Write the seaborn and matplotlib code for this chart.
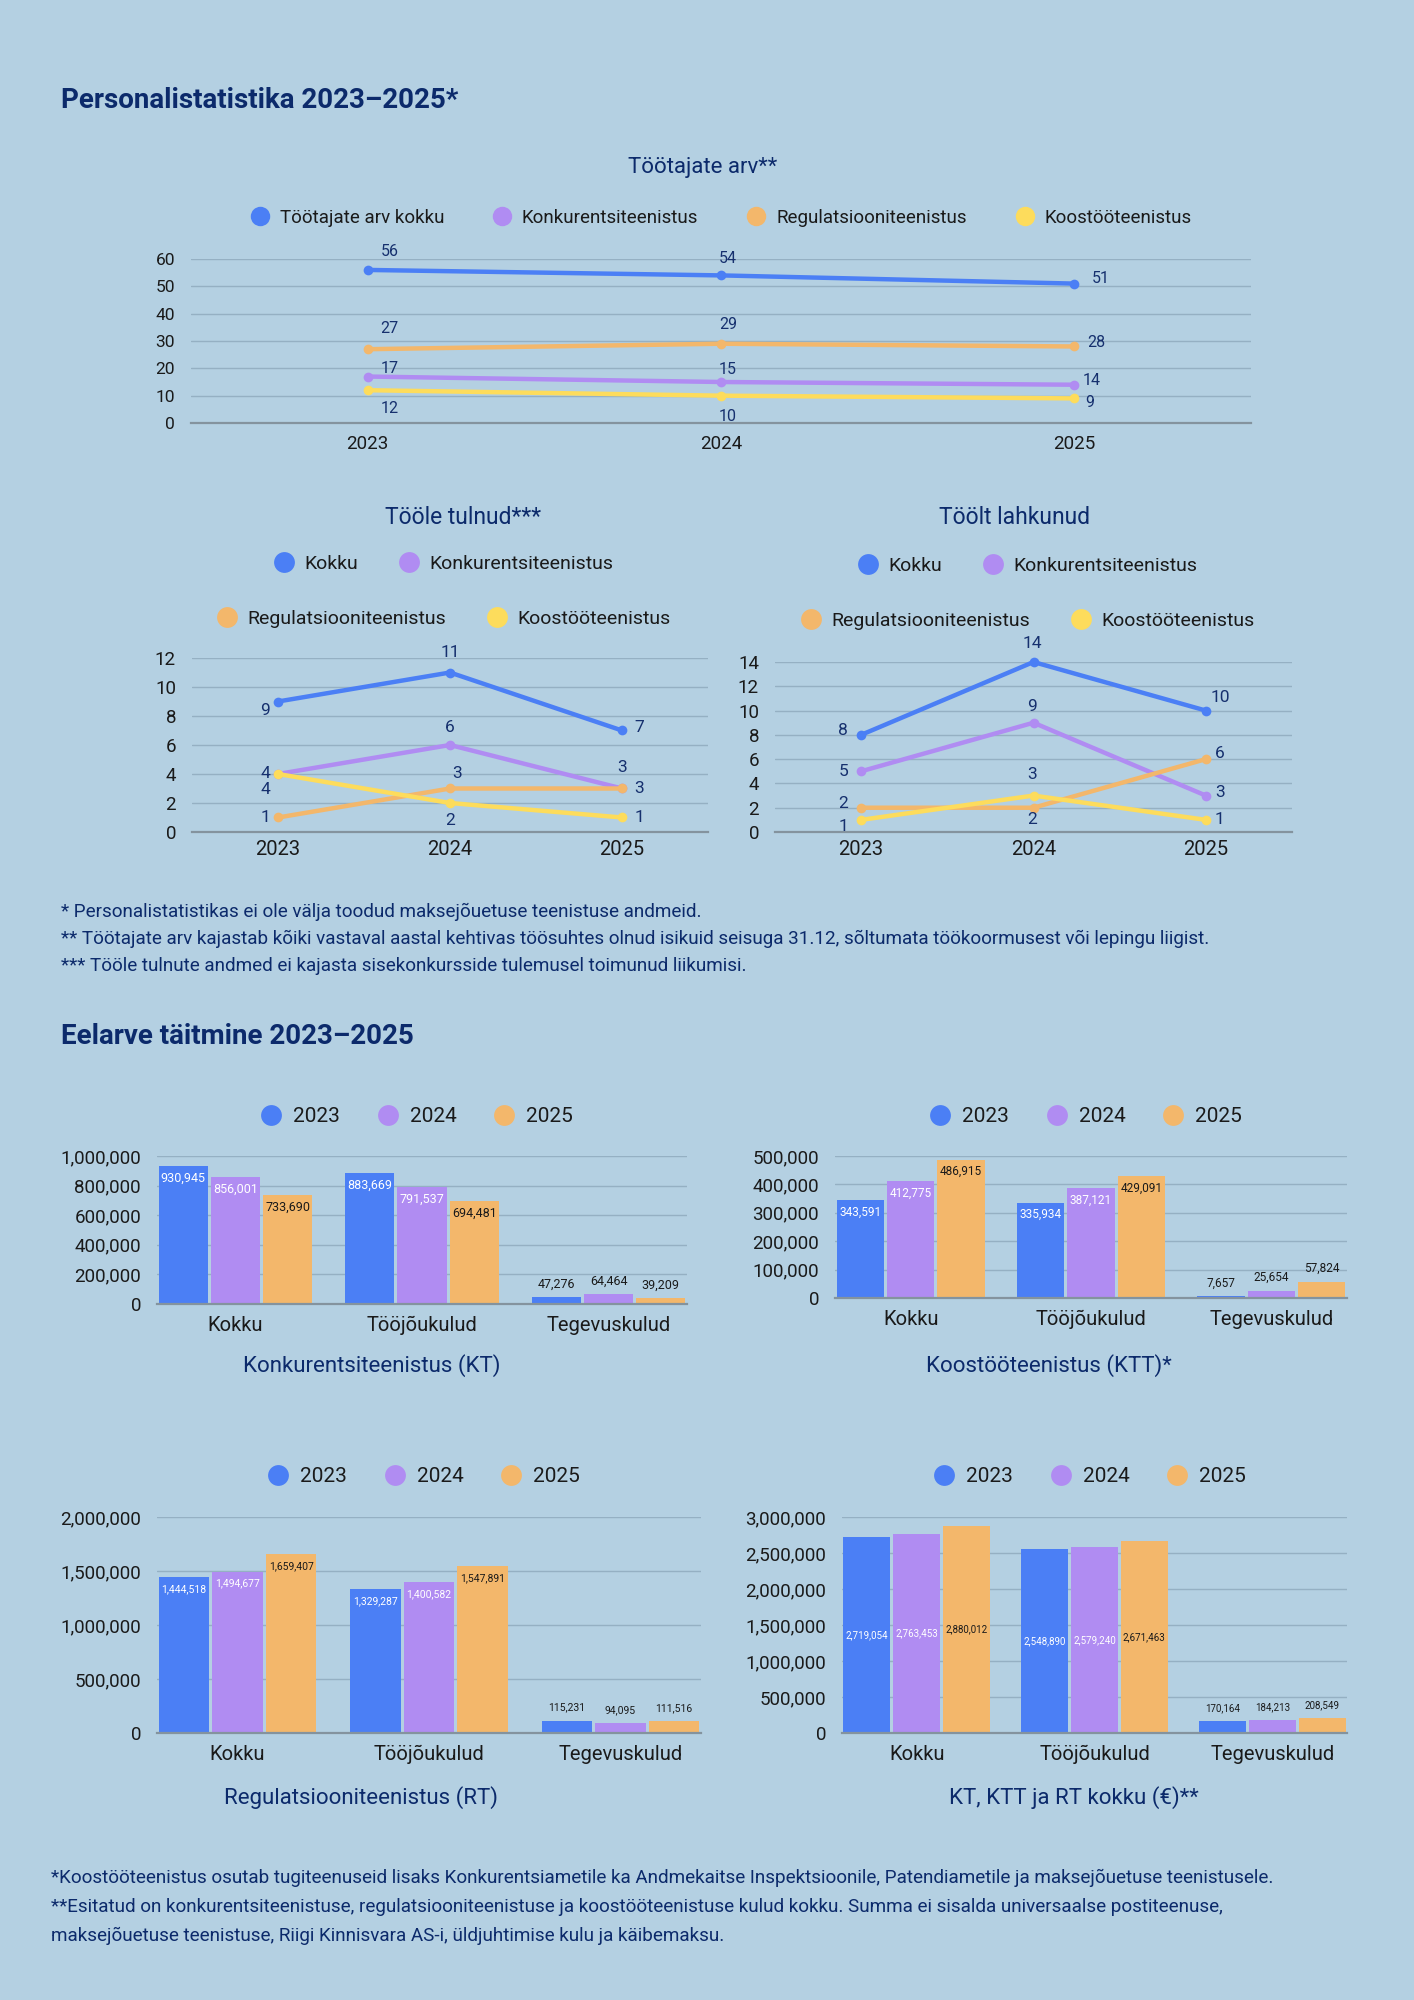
import numpy as np
import pandas as pd
import matplotlib.pyplot as plt
import seaborn as sns
from matplotlib.lines import Line2D
from matplotlib.ticker import FuncFormatter

sns.set_theme(style="white")
plt.rcParams['font.family'] = ['Roboto', 'DejaVu Sans']

BG = '#b4d0e2'
NAVY = '#0c2a6b'
LABEL = '#16306e'
GRID = '#95b0c3'
BASE = '#84939e'
DARK = '#1a1a1a'
BLUE = '#4b7ff5'
PURPLE = '#b08cf2'
ORANGE = '#f3b76b'
YELLOW = '#fddc5c'

W, H = 1414, 2000

# ---------------------------------------------------------------------
# data
# ---------------------------------------------------------------------
years = ['2023', '2024', '2025']

staff_names = ['Töötajate arv kokku', 'Konkurentsiteenistus',
               'Regulatsiooniteenistus', 'Koostööteenistus']
staff_total = [56, 54, 51]
staff_kt = [17, 15, 14]
staff_rt = [27, 29, 28]
staff_ktt = [12, 10, 9]

move_names = ['Kokku', 'Konkurentsiteenistus',
              'Regulatsiooniteenistus', 'Koostööteenistus']
hired_total = [9, 11, 7]
hired_kt = [4, 6, 3]
hired_rt = [1, 3, 3]
hired_ktt = [4, 2, 1]

left_total = [8, 14, 10]
left_kt = [5, 9, 3]
left_rt = [2, 2, 6]
left_ktt = [1, 3, 1]

cost_types = ['Kokku', 'Tööjõukulud', 'Tegevuskulud']
kt_2023 = [930945, 883669, 47276]
kt_2024 = [856001, 791537, 64464]
kt_2025 = [733690, 694481, 39209]
ktt_2023 = [343591, 335934, 7657]
ktt_2024 = [412775, 387121, 25654]
ktt_2025 = [486915, 429091, 57824]
rt_2023 = [1444518, 1329287, 115231]
rt_2024 = [1494677, 1400582, 94095]
rt_2025 = [1659407, 1547891, 111516]
sum_2023 = [2719054, 2548890, 170164]
sum_2024 = [2763453, 2579240, 184213]
sum_2025 = [2880012, 2671463, 208549]

LINE_COLORS = [BLUE, PURPLE, ORANGE, YELLOW]
BAR_COLORS = [BLUE, PURPLE, ORANGE]

fig = plt.figure(figsize=(W / 100, H / 100), dpi=100, facecolor=BG)


def rect(left, top, right, bottom):
    # pixel box -> figure fraction
    return [left / W, 1 - bottom / H, (right - left) / W, (bottom - top) / H]


def ftext(x, y, s, **kw):
    fig.text(x / W, 1 - y / H, s, **kw)


def style_axes(ax, ymax, ystep, tick_size, xpad, ypad=11.5, money=False):
    ax.set_facecolor('none')
    ax.set_axisbelow(True)
    ax.set_ylim(0, ymax)
    ax.set_yticks(np.arange(0, ymax + 1, ystep))
    ax.grid(axis='y', color=GRID, lw=1)
    ax.grid(axis='x', visible=False)
    for s in ['top', 'right', 'left']:
        ax.spines[s].set_visible(False)
    ax.spines['bottom'].set_color(BASE)
    ax.spines['bottom'].set_linewidth(1.6)
    ax.tick_params(axis='y', length=0, labelsize=tick_size, colors=DARK, pad=ypad)
    ax.tick_params(axis='x', length=0, labelsize=tick_size + 1, colors=DARK, pad=xpad)
    if money:
        ax.yaxis.set_major_formatter(FuncFormatter(lambda v, p: f'{int(v):,}'))
    ax.set_xlabel('')
    ax.set_ylabel('')


def add_legend(names, colors, cx, cy, size, msize, colsp):
    handles = [Line2D([], [], ls='none', marker='o', ms=msize, mew=0, color=c)
               for c in colors]
    leg = fig.legend(handles, names, loc='center', ncol=len(names),
                     bbox_to_anchor=(cx / W, 1 - cy / H), bbox_transform=fig.transFigure,
                     frameon=False, fontsize=size, handlelength=1.0,
                     handletextpad=0.55, columnspacing=colsp, borderaxespad=0)
    for t in leg.get_texts():
        t.set_color(DARK)


def line_chart(box, names, series, ymax, ystep, offsets, tick_size, lab_size, xpad):
    ax = fig.add_axes(rect(*box))
    df = pd.DataFrame({
        'Aasta': years * len(series),
        'Arv': sum(series, []),
        'Sari': np.repeat(names, len(years)),
    })
    sns.lineplot(data=df, x='Aasta', y='Arv', hue='Sari', hue_order=names,
                 palette=dict(zip(names, LINE_COLORS)), marker='o', markersize=7,
                 markeredgewidth=0, linewidth=3.2, sort=False, legend=False, ax=ax)
    for line in ax.lines:
        line.set_clip_on(False)
    for i, vals in enumerate(series):
        for j, v in enumerate(vals):
            dx, dy = offsets[i][j]
            ax.annotate(str(v), (j, v), xytext=(dx, -dy), textcoords='offset pixels',
                        ha='center', va='center', color=LABEL, fontsize=lab_size)
    ax.set_xlim(-0.5, 2.5)
    style_axes(ax, ymax, ystep, tick_size, xpad)
    return ax


def bar_chart(box, v23, v24, v25, ymax, ystep, lab_size, mode):
    ax = fig.add_axes(rect(*box))
    df = pd.DataFrame({
        'Kulu': cost_types * 3,
        'Aasta': np.repeat(years, len(cost_types)),
        'Summa': v23 + v24 + v25,
    })
    sns.barplot(data=df, x='Kulu', y='Summa', hue='Aasta', palette=BAR_COLORS,
                width=0.84, gap=0.06, saturation=1, errorbar=None, legend=False,
                edgecolor='none', linewidth=0, ax=ax)
    for k, cont in enumerate(ax.containers):
        for p in cont.patches:
            h = p.get_height()
            x = p.get_x() + p.get_width() / 2
            txt = f'{int(round(h)):,}'
            if h < 0.2 * ymax:
                ax.annotate(txt, (x, h), xytext=(0, 13), textcoords='offset pixels',
                            ha='center', va='center', fontsize=lab_size, color=DARK)
            elif mode == 'top':
                ax.annotate(txt, (x, h), xytext=(0, -12), textcoords='offset pixels',
                            ha='center', va='center', fontsize=lab_size,
                            color='white' if k < 2 else DARK)
            else:
                ax.annotate(txt, (x, h / 2), ha='center', va='center', fontsize=lab_size,
                            color='white' if k < 2 else DARK)
    ax.set_xlim(-0.42, 2.42)
    style_axes(ax, ymax, ystep, 13.5, 8.5, money=True)
    return ax


# ---------------------------------------------------------------------
# Personalistatistika
# ---------------------------------------------------------------------
ftext(61, 100, 'Personalistatistika 2023–2025*', ha='left', va='center',
      fontsize=20, weight='bold', color=NAVY)

ftext(703, 168, 'Töötajate arv**', ha='center', va='center', fontsize=16, color=NAVY)
add_legend(staff_names, LINE_COLORS, 721, 218, 13.5, 14, 2.6)
line_chart((191, 259, 1251, 423), staff_names,
           [staff_total, staff_kt, staff_rt, staff_ktt], 60, 10,
           [[(22, -18), (7, -17), (26, -5)],
            [(22, -8), (7, -12), (17, -4)],
            [(22, -21), (7, -19), (22, -4)],
            [(22, 18), (7, 21), (15, 4)]],
           12.5, 11.5, 8.5)

ftext(463, 517, 'Tööle tulnud***', ha='center', va='center', fontsize=16.5, color=NAVY)
add_legend(move_names[:2], LINE_COLORS[:2], 444, 564, 14, 15, 2.1)
add_legend(move_names[2:], LINE_COLORS[2:], 444, 619, 14, 15, 2.1)
line_chart((192, 658, 708, 832), move_names,
           [hired_total, hired_kt, hired_rt, hired_ktt], 12, 2,
           [[(-13, 9), (0, -20), (17, -3)],
            [(-13, 0), (0, -18), (0, -21)],
            [(-13, 0), (7, -15), (17, 0)],
            [(-13, 16), (0, 18), (17, 0)]],
           13.5, 12.5, 6)

ftext(1015, 517, 'Töölt lahkunud', ha='center', va='center', fontsize=16.5, color=NAVY)
add_legend(move_names[:2], LINE_COLORS[:2], 1028, 566, 14, 15, 2.1)
add_legend(move_names[2:], LINE_COLORS[2:], 1028, 621, 14, 15, 2.1)
line_chart((775, 662, 1292, 832), move_names,
           [left_total, left_kt, left_rt, left_ktt], 14, 2,
           [[(-18, -4), (-1, -19), (14, -13)],
            [(-18, 0), (-1, -16), (14, -3)],
            [(-18, -4), (-1, 12), (14, -6)],
            [(-18, 7), (-1, -21), (14, 0)]],
           13.5, 12.5, 6)

notes_top = [
    '* Personalistatistikas ei ole välja toodud maksejõuetuse teenistuse andmeid.',
    '** Töötajate arv kajastab kõiki vastaval aastal kehtivas töösuhtes olnud isikuid '
    'seisuga 31.12, sõltumata töökoormusest või lepingu liigist.',
    '*** Tööle tulnute andmed ei kajasta sisekonkursside tulemusel toimunud liikumisi.',
]
for i, line in enumerate(notes_top):
    ftext(61, 912 + i * 27, line, ha='left', va='center', fontsize=13.6, color=NAVY)

# ---------------------------------------------------------------------
# Eelarve täitmine
# ---------------------------------------------------------------------
ftext(61, 1037, 'Eelarve täitmine 2023–2025', ha='left', va='center',
      fontsize=20, weight='bold', color=NAVY)

add_legend(years, BAR_COLORS, 417, 1117, 15, 15, 1.8)
bar_chart((157, 1156, 687, 1304), kt_2023, kt_2024, kt_2025, 1000000, 200000, 9, 'top')
ftext(372, 1366, 'Konkurentsiteenistus (KT)', ha='center', va='center',
      fontsize=16, color=NAVY)

add_legend(years, BAR_COLORS, 1086, 1117, 15, 15, 1.8)
bar_chart((835, 1156, 1347, 1298), ktt_2023, ktt_2024, ktt_2025, 500000, 100000, 8.5, 'top')
ftext(1049, 1366, 'Koostööteenistus (KTT)*', ha='center', va='center',
      fontsize=16, color=NAVY)

add_legend(years, BAR_COLORS, 424, 1477, 15, 15, 1.8)
bar_chart((157, 1517, 701, 1733), rt_2023, rt_2024, rt_2025, 2000000, 500000, 7.5, 'top')
ftext(361, 1798, 'Regulatsiooniteenistus (RT)', ha='center', va='center',
      fontsize=16, color=NAVY)

add_legend(years, BAR_COLORS, 1090, 1477, 15, 15, 1.8)
bar_chart((842, 1517, 1347, 1733), sum_2023, sum_2024, sum_2025, 3000000, 500000, 7, 'center')
ftext(1074, 1798, 'KT, KTT ja RT kokku (€)**', ha='center', va='center',
      fontsize=16, color=NAVY)

notes_bottom = [
    '*Koostööteenistus osutab tugiteenuseid lisaks Konkurentsiametile ka Andmekaitse '
    'Inspektsioonile, Patendiametile ja maksejõuetuse teenistusele.',
    '**Esitatud on konkurentsiteenistuse, regulatsiooniteenistuse ja koostööteenistuse '
    'kulud kokku. Summa ei sisalda universaalse postiteenuse,',
    'maksejõuetuse teenistuse, Riigi Kinnisvara AS-i, üldjuhtimise kulu ja käibemaksu.',
]
for i, line in enumerate(notes_bottom):
    ftext(51, 1878 + i * 29, line, ha='left', va='center', fontsize=13.6, color=NAVY)

fig.savefig('out.png', dpi=100, facecolor=BG)
